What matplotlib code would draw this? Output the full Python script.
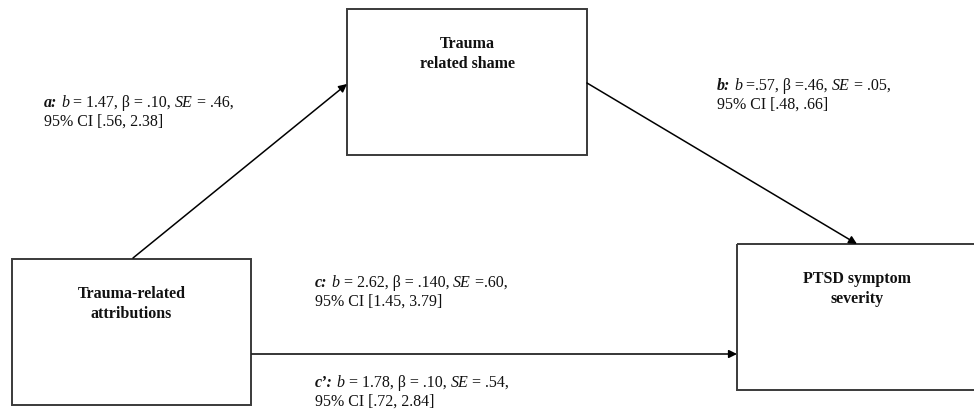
import matplotlib.pyplot as plt
from matplotlib.patches import Rectangle

plt.rcParams['font.family'] = ['Liberation Serif', 'DejaVu Serif']

# Variables (boxes)
box_names = ['Trauma-related\nattributions', 'Trauma\nrelated shame', 'PTSD symptom\nseverity']
# x0, y0, x1, y1 in pixels (y down)
box_pos = [(12, 259, 251, 405), (347, 9, 587, 155), (737, 244, 980, 390)]

# Path coefficients
path_names = ['a:', 'b:', 'c:', "c\u2019:"]
path_b = [' = 1.47, ', ' =.57, ', ' = 2.62, ', ' = 1.78, ']
path_beta = ['= .10, ', '=.46, ', '= .140, ', '= .10, ']
path_se = [' = .46,', ' = .05,', ' =.60,', ' = .54,']
path_ci = ['[.56, 2.38]', '[.48, .66]', '[1.45, 3.79]', '[.72, 2.84]']
label_x = [44, 717, 315, 315]
label_y = [103, 86, 283, 383]

# Arrows: start, end
arrows = [((133, 258), (347, 84)), ((587, 83), (857, 244)), ((252, 354), (737, 354))]

fig = plt.figure(figsize=(9.74, 4.13), dpi=100)
ax = fig.add_axes([0, 0, 1, 1])
ax.set_xlim(0, 974)
ax.set_ylim(413, 0)
ax.axis('off')

for name, (x0, y0, x1, y1) in zip(box_names, box_pos):
    ax.add_patch(Rectangle((x0, y0), x1 - x0, y1 - y0, fill=False,
                           edgecolor='#3a3a3a', lw=1.4, clip_on=False))
    cx = (x0 + min(x1, 977)) / 2
    ax.text(cx, y0 + 45, name, ha='center', va='center', fontsize=11.5,
            fontweight='bold', linespacing=1.32, color='#111111')

for (s, e) in arrows:
    ax.annotate('', xy=e, xytext=s,
                arrowprops=dict(arrowstyle='-|>', color='black', lw=1.1,
                                mutation_scale=12, shrinkA=0, shrinkB=0))

fs = 11.5
for i in range(len(path_names)):
    pieces = [(path_names[i], 'bold', 'italic'), (' ', 'normal', 'normal'),
              ('b', 'normal', 'italic'), (path_b[i] + '\u03b2 ' + path_beta[i], 'normal', 'normal'),
              ('SE', 'normal', 'italic'), (path_se[i], 'normal', 'normal')]
    prev = ax.text(label_x[i], label_y[i], pieces[0][0], ha='left', va='center',
                   fontsize=fs, fontweight=pieces[0][1], fontstyle=pieces[0][2], color='#111111')
    for txt, w, st in pieces[1:]:
        prev = ax.annotate(txt, xy=(1, 0), xycoords=prev, ha='left', va='bottom',
                           fontsize=fs, fontweight=w, fontstyle=st, color='#111111')
    ax.text(label_x[i], label_y[i] + 19, '95% CI ' + path_ci[i], ha='left', va='center',
            fontsize=fs, color='#111111')

fig.savefig('out.png', dpi=100)
